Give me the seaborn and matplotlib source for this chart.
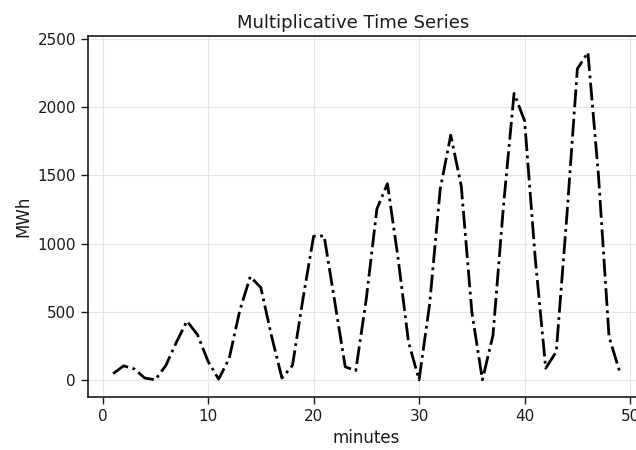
import numpy as np
import pandas as pd
import matplotlib
matplotlib.use("Agg")
import matplotlib.pyplot as plt
import seaborn as sns

# minutes 1..49 and the energy values
minutes = list(range(1, 50))
mwh = [50, 107, 85, 18, 5, 110, 280, 435, 335, 140,
       10, 160, 510, 760, 680, 330, 18, 110, 600, 1055,
       1058, 580, 100, 73, 600, 1255, 1440, 900, 280, 5,
       560, 1400, 1795, 1420, 500, 5, 330, 1280, 2100, 1900,
       900, 90, 210, 1200, 2280, 2400, 1500, 321, 66]

df = pd.DataFrame({"minutes": minutes, "MWh": mwh})

sns.set_context("notebook")
sns.set_style("ticks")
plt.rcParams["font.family"] = ["DejaVu Sans"]
plt.rcParams["text.color"] = "#1a1a1a"
plt.rcParams["axes.labelcolor"] = "#1a1a1a"
plt.rcParams["xtick.color"] = "#1a1a1a"
plt.rcParams["ytick.color"] = "#1a1a1a"

fig = plt.figure(figsize=(6.36, 4.5), dpi=100)
ax = fig.add_axes([0.138, 0.118, 0.876, 0.802])

sns.lineplot(data=df, x="minutes", y="MWh", color="black", linestyle="-.", linewidth=2, ax=ax)

ax.grid(True, color="#e6e6e6", linewidth=0.8)
ax.set_axisbelow(True)
ax.set_xticks([0, 10, 20, 30, 40, 50])
ax.set_yticks([0, 500, 1000, 1500, 2000, 2500])
ax.set_xlim(-1.4, 51.4)
ax.set_ylim(-120, 2520)
ax.tick_params(length=5, width=1, labelsize=11)
for s in ax.spines.values():
    s.set_linewidth(1.2)
    s.set_color("#1a1a1a")
ax.set_title("Multiplicative Time Series", fontsize=13, x=0.476)
ax.set_xlabel("minutes", fontsize=12)
ax.set_ylabel("MWh", fontsize=12)

fig.savefig("out.png", dpi=100)
